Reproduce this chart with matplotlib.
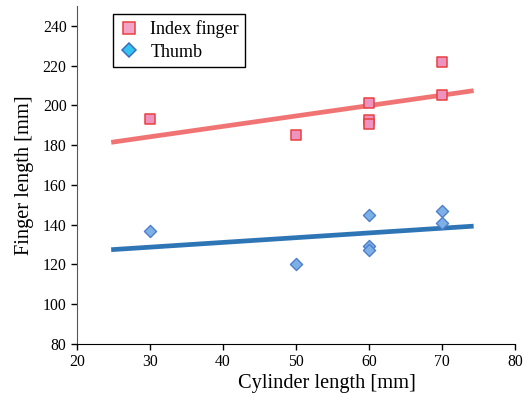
import numpy as np
import matplotlib.pyplot as plt
from matplotlib.lines import Line2D

plt.rcParams['font.family'] = ['Liberation Serif', 'DejaVu Serif']

# Data
cyl_index = [30, 50, 60, 60, 60, 70, 70]
index_len = [193, 185, 201, 192.5, 190.5, 222, 205]
cyl_thumb = [30, 50, 60, 60, 60, 70, 70]
thumb_len = [137, 120, 145, 129, 127, 147, 141]
fit_range = [25, 74]

fig = plt.figure(figsize=(5.24, 4.05), dpi=100)
ax = fig.add_axes([0.147, 0.151, 0.836, 0.834])

# trend lines (least squares)
xs = np.array(fit_range)
p = np.polyfit(cyl_index, index_len, 1)
ax.plot(xs, np.polyval(p, xs), color='#F07474', lw=3.4, zorder=2)
p = np.polyfit(cyl_thumb, thumb_len, 1)
ax.plot(xs, np.polyval(p, xs), color='#2E75B6', lw=3.4, zorder=2)

ax.scatter(cyl_index, index_len, marker='s', s=55, facecolor='#EE93C0',
           edgecolor='#E8403F', linewidths=1.1, zorder=3)
ax.scatter(cyl_thumb, thumb_len, marker='D', s=38, facecolor='#7DB0E6',
           edgecolor='#4F7FCC', linewidths=1.0, zorder=3)

ax.set_xlim(20, 80)
ax.set_ylim(80, 250)
ax.set_xticks(range(20, 81, 10))
ax.set_yticks(range(80, 241, 20))
for s in ['top', 'right']:
    ax.spines[s].set_visible(False)
ax.spines['left'].set_color('#555555')
ax.tick_params(direction='out', length=4, labelsize=11.3, width=1)
ax.set_xlabel('Cylinder length [mm]', fontsize=14.7, labelpad=3, x=0.57)
ax.set_ylabel('Finger length [mm]', fontsize=14.7, labelpad=6)

handles = [
    Line2D([], [], marker='s', ls='none', markersize=8, markerfacecolor='#F4A3C8',
           markeredgecolor='#E8403F', markeredgewidth=1.1),
    Line2D([], [], marker='D', ls='none', markersize=7.5, markerfacecolor='#33C3F0',
           markeredgecolor='#3A6FC0', markeredgewidth=1.1),
]
leg = ax.legend(handles, ['Index finger', 'Thumb'], loc='upper left',
                bbox_to_anchor=(0.062, 1.003), fontsize=13, fancybox=False,
                edgecolor='black', framealpha=1, borderpad=0.35, handlelength=1.0,
                handletextpad=0.7, labelspacing=0.3)
leg.get_frame().set_linewidth(1.0)

fig.savefig('out.png', dpi=100)
